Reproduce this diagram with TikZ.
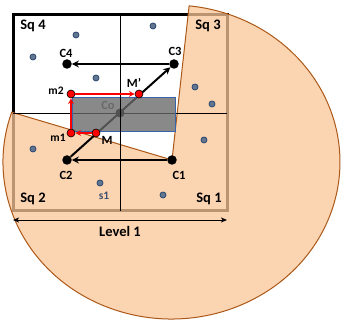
\documentclass[tikz,border=0pt]{standalone}
\usepackage{fontspec}
\setmainfont{Carlito}
\usetikzlibrary{arrows.meta}
\definecolor{peach}{RGB}{250,198,152}
\definecolor{brownline}{RGB}{172,88,24}
\definecolor{dotfill}{RGB}{98,118,145}
\definecolor{dotdraw}{RGB}{40,70,110}
\definecolor{rectgray}{RGB}{105,105,105}
\definecolor{rectblue}{RGB}{55,100,170}
\definecolor{slate}{RGB}{60,80,110}
\definecolor{cotext}{RGB}{105,105,105}
\begin{document}
\begin{tikzpicture}[x=1pt,y=-1pt,
  bigdot/.style={circle, fill=black, inner sep=0pt, minimum size=9.5pt},
  codot/.style={circle, fill=black, inner sep=0pt, minimum size=9pt},
  reddot/.style={circle, fill=red, draw=black, line width=0.6pt, inner sep=0pt, minimum size=8pt},
  smalldot/.style={circle, fill=dotfill, draw=dotdraw, line width=0.8pt, inner sep=0pt, minimum size=6pt},
  lbl/.style={font=\bfseries\fontsize{12.5}{12.5}\selectfont, inner sep=0pt},
  mlbl/.style={font=\bfseries\fontsize{11.5}{11.5}\selectfont, inner sep=0pt},
  sqlbl/.style={font=\bfseries\fontsize{14.5}{14.5}\selectfont, inner sep=0pt},
  blackarrow/.style={line width=2pt, -{Stealth[length=7pt,width=7pt,inset=2.5pt]}},
  redarrow/.style={red, line width=1.2pt, -{Stealth[length=5.5pt,width=5.5pt,inset=1.5pt]}},
  thinline/.style={line width=0.8pt, black}]
\useasboundingbox (0,0) rectangle (341,320);
\fill[white] (0,0) rectangle (341,320);
% square border
\draw[line width=3pt] (13,15) rectangle (227,211);
% sector
\coordinate (C1c) at (172,160);
\fill[peach, fill opacity=0.75] (C1c) -- ([shift={(171.5,162)}]161.5:168.5pt and 157pt)
   arc[start angle=161.5, end angle=444, x radius=168.5pt, y radius=157pt] -- cycle;
\draw[brownline, line width=1pt] (C1c) -- ([shift={(171.5,162)}]161.5:168.5pt and 157pt)
   arc[start angle=161.5, end angle=444, x radius=168.5pt, y radius=157pt] -- cycle;
% cross lines
\coordinate (vt) at (120,15);
\coordinate (vb) at (120,211);
\coordinate (hl) at (13,113);
\coordinate (hr) at (227,113);
\draw[thinline] (hl) -- (hr);
% small dots
\node[smalldot] (d1) at (76,35) {};
\node[smalldot] (d2) at (33,57) {};
\node[smalldot] (d3) at (96,78) {};
\node[smalldot] (d4) at (153,26) {};
\node[smalldot] (d5) at (195,87) {};
\node[smalldot] (d6) at (212,104) {};
\node[smalldot] (d7) at (204,140) {};
\node[smalldot] (d8) at (33,149) {};
\node[smalldot] (s1) at (100,183) {};
\node[smalldot] (d9) at (163,195) {};
% labels
\node[sqlbl] (sq4) at (33,26) {Sq 4};
\node[sqlbl] (sq3) at (208,26) {Sq 3};
\node[sqlbl] (sq2) at (33,199) {Sq 2};
\node[sqlbl] (sq1) at (209,199) {Sq 1};
\node[lbl] (lc4) at (66,53) {C4};
\node[lbl] (lc3) at (175,51) {C3};
\node[lbl] (lc2) at (66,175) {C2};
\node[lbl] (lc1) at (179,175) {C1};
\node[mlbl, text=slate] (ls1) at (104,196) {s1};
\node[mlbl] (lm2) at (56,91) {m2};
\node[mlbl] (lm1) at (58,138) {m1};
\node[lbl] (lM) at (107,140) {M};
\node[lbl] (lMp) at (134,83) {M’};
\node[lbl, text=cotext] (lco) at (108,105) {Co};
% big dots
\node[bigdot] (C4) at (67,64) {};
\node[bigdot] (C3) at (174,64) {};
\node[bigdot] (C2) at (67,160) {};
\node[bigdot] (C1) at (172,160) {};
\node[codot] (Co) at (120,113) {};
% black arrows
\draw[blackarrow] (C3) -- (C4);
\draw[blackarrow] (C1) -- (C2);
\draw[blackarrow] (C2) -- (C3);
% gray rectangle
\node[draw=rectblue, line width=1pt, fill=rectgray, fill opacity=0.78, draw opacity=1,
      minimum width=103pt, minimum height=34pt, inner sep=0pt, anchor=north west] (rect) at (72,96.7) {};
% vertical line on top
\draw[thinline] (vt) -- (vb);
% red dots and arrows
\node[reddot] (m2) at (71,94) {};
\node[reddot] (Mp) at (139,94) {};
\node[reddot] (m1) at (71,133) {};
\node[reddot] (M) at (96,133) {};
\draw[redarrow] (M) -- (m1);
\draw[redarrow] (m1) -- (m2);
\draw[redarrow] (m2) -- (Mp);
% level arrow
\coordinate (la) at (13,220);
\coordinate (lb) at (227,220);
\draw[line width=0.9pt, {Stealth[length=6pt,width=5pt,inset=1.5pt]}-{Stealth[length=6pt,width=5pt,inset=1.5pt]}] (la) -- (lb);
\node[font=\bfseries\fontsize{14.5}{14.5}\selectfont, inner sep=0pt] (lev) at (120,231) {Level 1};
\end{tikzpicture}
\end{document}
